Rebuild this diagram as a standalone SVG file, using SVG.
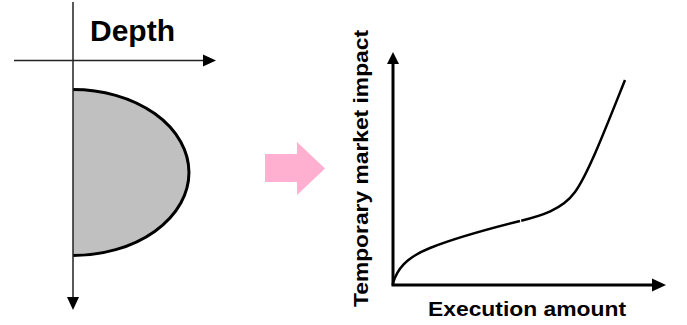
<svg xmlns="http://www.w3.org/2000/svg" width="687" height="325" viewBox="0 0 687 325">
  <style>
    .label { font-family: "Liberation Sans", Arial, sans-serif; font-weight: bold; fill: #000; }
    .thin { stroke: #222; stroke-width: 1.5; fill: none; }
    .thick { stroke: #000; stroke-width: 3; fill: none; }
    .head { fill: #000; stroke: none; }
  </style>
  <rect width="687" height="325" fill="#fff"/>

  <!-- depth profile: order book shape (outline on the curved side only) -->
  <g id="depth-profile">
    <path d="M73,89.5 A116,83 0 0 1 73,255.5 Z" fill="#c0c0c0" stroke="none"/>
    <path d="M73,89.5 A116,83 0 0 1 73,255.5" fill="none" stroke="#000" stroke-width="3"/>
  </g>

  <!-- left axes -->
  <g id="depth-axes">
    <line class="thin" x1="73" y1="2" x2="73" y2="298"/>
    <polygon class="head" points="67,297 79,297 73,310"/>
    <line class="thin" x1="14" y1="60.5" x2="204" y2="60.5"/>
    <polygon class="head" points="203,54.5 203,66.5 216,60.5"/>
    <text class="label" x="90" y="41" font-size="30">Depth</text>
  </g>

  <!-- transition arrow -->
  <g id="transition-arrow">
    <polygon points="265,154 297,154 297,142 325,168.5 297,195 297,182 265,182" fill="#ffb0d0"/>
  </g>

  <!-- impact chart axes -->
  <g id="impact-axes">
    <line class="thick" x1="393" y1="64" x2="393" y2="285"/>
    <polygon class="head" points="387,64 399,64 393,52"/>
    <line class="thick" x1="391.5" y1="285" x2="653" y2="285"/>
    <polygon class="head" points="652,278.5 652,291.5 666,285"/>
    <text class="label" x="428" y="316" font-size="21" textLength="198" lengthAdjust="spacingAndGlyphs">Execution amount</text>
    <text class="label" transform="translate(368,307) rotate(-90)" font-size="21" textLength="277" lengthAdjust="spacingAndGlyphs">Temporary market impact</text>
  </g>

  <!-- impact curve -->
  <g id="impact-curve">
    <path d="M393,283 C397,270 405,258 430,248 S500,226 520,221" stroke="#000" stroke-width="2.5" fill="none"/>
    <path d="M521.2,220.7 C540,216 562,210 575,192 S605,130 625,80" stroke="#000" stroke-width="2.5" fill="none"/>
  </g>
</svg>
